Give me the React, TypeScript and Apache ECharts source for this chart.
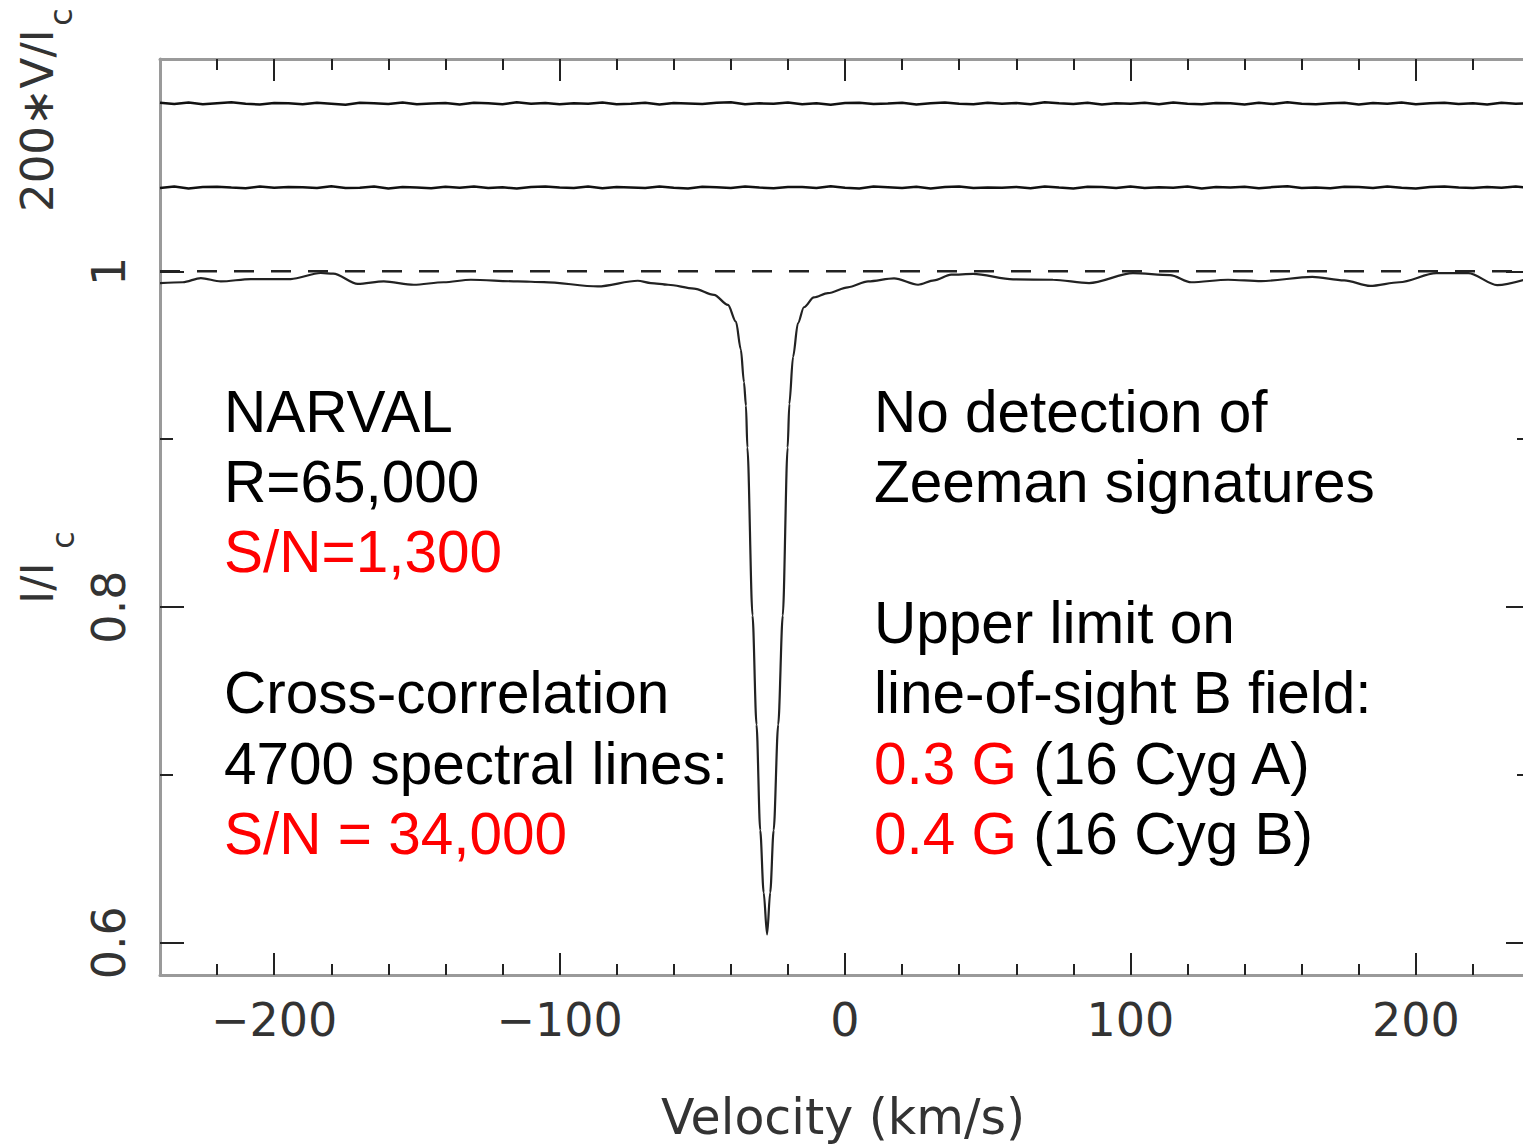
import React, { useEffect, useRef } from "react";
import * as echarts from "echarts";

// ---- Stokes I profile (velocity km/s, I/Ic) ----
const velocityI = [-240, -232, -225.7, -218.7, -208.2, -194.2, -183.7, -179.3, -170.7, -161.6, -151.1, -140.6, -131.1, -114.6, -105.5, -86.6, -72.6, -68.0, -62.0, -52.9, -45.9, -41.0, -38.2, -36.5, -35.4, -34.7, -34.2, -32.4, -31.0, -29.7, -28.5, -27.3, -26.2, -25.0, -23.4, -21.8, -20.1, -19.5, -18.2, -16.5, -14.4, -10.9, -6.0, 1.0, 8.1, 17.2, 25.6, 31.2, 37.2, 44.9, 58.9, 72.9, 85.5, 100.9, 113.9, 121.3, 134.2, 145.8, 163.7, 174.9, 184.0, 194.2, 207.2, 218.4, 228.5, 240];
const intensityI = [0.993, 0.9935, 0.996, 0.994, 0.9954, 0.9954, 0.999, 0.9986, 0.9925, 0.994, 0.992, 0.9935, 0.995, 0.994, 0.9936, 0.991, 0.9944, 0.993, 0.992, 0.9897, 0.986, 0.98, 0.97, 0.9535, 0.934, 0.92, 0.895, 0.795, 0.73, 0.667, 0.63, 0.605, 0.63, 0.667, 0.73, 0.795, 0.895, 0.921, 0.949, 0.969, 0.9786, 0.9845, 0.987, 0.9905, 0.994, 0.9958, 0.992, 0.9946, 0.998, 0.9985, 0.9952, 0.995, 0.993, 0.9989, 0.9978, 0.9935, 0.995, 0.9942, 0.9967, 0.9946, 0.9913, 0.9935, 0.9989, 0.9989, 0.9918, 0.996];

// ---- Stokes V profiles (shifted to 1.10 and 1.05), deviations in units of 1e-4 ----
const velocityV = [-240, -235, -230, -225, -220, -215, -210, -205, -200, -195, -190, -185, -180, -175, -170, -165, -160, -155, -150, -145, -140, -135, -130, -125, -120, -115, -110, -105, -100, -95, -90, -85, -80, -75, -70, -65, -60, -55, -50, -45, -40, -35, -30, -25, -20, -15, -10, -5, 0, 5, 10, 15, 20, 25, 30, 35, 40, 45, 50, 55, 60, 65, 70, 75, 80, 85, 90, 95, 100, 105, 110, 115, 120, 125, 130, 135, 140, 145, 150, 155, 160, 165, 170, 175, 180, 185, 190, 195, 200, 205, 210, 215, 220, 225, 230, 235, 240];
const stokesVA = [4, -3, 6, -5, 2, 7, -2, -6, 3, 1, -4, 5, -1, -7, 4, 2, -3, 6, -5, 0, 3, -6, 5, 1, -4, 7, -2, 3, -5, 2, -1, 6, -4, -2, 5, -6, 3, 0, -3, 4, 7, -5, 1, -2, 6, -4, 2, -7, 3, 5, -3, 0, 4, -6, 2, 6, -1, -4, 5, -2, 3, -5, 7, 1, -3, 4, -6, 2, -1, 5, -4, 6, -2, -5, 3, 1, -6, 4, -3, 7, -1, -4, 2, 5, -6, 3, -2, 6, -5, 1, 4, -3, 2, -6, 5, -1, 0];
const stokesVB = [-3, 5, -6, 2, 4, -1, -5, 6, -2, 3, 1, -4, 7, -3, -2, 5, -6, 3, 0, -5, 4, -2, 6, -4, 1, -7, 3, 5, -1, -3, 6, -5, 2, 0, -4, 5, -2, -6, 4, 1, -3, 6, -1, -5, 3, 2, -4, 7, -2, -6, 5, 1, -3, 4, -6, 2, 6, -4, 0, -2, 3, -5, 5, -1, -6, 4, 2, -3, 6, -4, 1, -2, 5, -6, 3, -1, 4, -5, 2, 7, -3, 0, -5, 4, 2, -4, 6, -2, -6, 3, 5, -1, -4, 3, -2, 6, -3];
const levelVA = 1.1;
const levelVB = 1.05;
const continuumLevel = 1.0;

// ---- axes ----
const xRange = [-240, 240];
const yRange = [0.5808, 1.1265];
const xMajorTicks = [-200, -100, 0, 100, 200];
const xMinorTicks = [-220, -180, -160, -140, -120, -80, -60, -40, -20, 20, 40, 60, 80, 120, 140, 160, 180, 220];
const yMajorTicks = [0.6, 0.8, 1.0];
const yMinorTicks = [0.7, 0.9];

// ---- annotation text ----
const leftLines = [
  [{ t: "NARVAL", red: false }],
  [{ t: "R=65,000", red: false }],
  [{ t: "S/N=1,300", red: true }],
  [],
  [{ t: "Cross-correlation", red: false }],
  [{ t: "4700 spectral lines:", red: false }],
  [{ t: "S/N = 34,000", red: true }],
];
const rightLines = [
  [{ t: "No detection of", red: false }],
  [{ t: "Zeeman signatures", red: false }],
  [],
  [{ t: "Upper limit on", red: false }],
  [{ t: "line-of-sight B field:", red: false }],
  [{ t: "0.3 G", red: true }, { t: " (16 Cyg A)", red: false }],
  [{ t: "0.4 G", red: true }, { t: " (16 Cyg B)", red: false }],
];

const AX_FONT = '"DejaVu Sans", sans-serif';
const TXT_FONT = '"Liberation Sans", Arial, sans-serif';

export default function App() {
  const ref = useRef<HTMLDivElement>(null);
  useEffect(() => {
    if (!ref.current) return;
    const chart = echarts.init(ref.current, undefined, { renderer: "svg" });

    const iData = velocityI.map((v, i) => [v, intensityI[i]]);
    const vaData = velocityV.map((v, i) => [v, levelVA + stokesVA[i] * 1e-4]);
    const vbData = velocityV.map((v, i) => [v, levelVB + stokesVB[i] * 1e-4]);

    const tickStyle = { color: "#222", width: 2 };
    const frameStyle = { color: "#9a9a9a", width: 3 };
    const fmtX = (v: number) => (v < 0 ? "\u2212" + Math.abs(v) : String(v));
    const fmtY = (v: number) => (Math.abs(v - 1) < 1e-9 ? "1" : v.toFixed(1));

    const xBase = { type: "value", min: xRange[0], max: xRange[1], gridIndex: 0, splitLine: { show: false } };
    const yBase = { type: "value", min: yRange[0], max: yRange[1], gridIndex: 0, splitLine: { show: false } };
    const line = (show: boolean) => ({ show, onZero: false, lineStyle: frameStyle });

    const textFont = "58.5px " + TXT_FONT;
    const lineH = 70.4;
    const blockTop = 411;
    const makeBlock = (lines: any[], x: number) =>
      lines
        .map((segs: any[], i: number) => {
          if (!segs.length) return null;
          const txt = segs.map((s) => (s.red ? "{r|" + s.t + "}" : "{k|" + s.t + "}")).join("");
          return {
            type: "text",
            x,
            y: blockTop + i * lineH,
            style: {
              text: txt,
              font: textFont,
              fill: "#000",
              align: "left",
              verticalAlign: "middle",
              rich: {
                r: { fill: "#ff0000", font: textFont },
                k: { fill: "#000", font: textFont },
              },
            },
          };
        })
        .filter(Boolean);

    chart.setOption({
      animation: false,
      grid: { left: 160, top: 59, width: 1370, height: 916, containLabel: false, outerBoundsMode: "none" },
      xAxis: [
        {
          ...xBase,
          position: "bottom",
          axisLine: line(true),
          axisTick: { show: true, inside: true, length: 22, customValues: xMajorTicks, lineStyle: tickStyle },
          axisLabel: { show: true, customValues: xMajorTicks, formatter: fmtX, fontSize: 46, fontFamily: AX_FONT, color: "#333", margin: 22 },
        },
        {
          ...xBase,
          position: "bottom",
          axisLine: line(false),
          axisTick: { show: true, inside: true, length: 11, customValues: xMinorTicks, lineStyle: tickStyle },
          axisLabel: { show: false },
        },
        {
          ...xBase,
          position: "top",
          axisLine: line(true),
          axisTick: { show: true, inside: true, length: 22, customValues: xMajorTicks, lineStyle: tickStyle },
          axisLabel: { show: false },
        },
        {
          ...xBase,
          position: "top",
          axisLine: line(false),
          axisTick: { show: true, inside: true, length: 11, customValues: xMinorTicks, lineStyle: tickStyle },
          axisLabel: { show: false },
        },
      ],
      yAxis: [
        {
          ...yBase,
          position: "left",
          axisLine: line(true),
          axisTick: { show: true, inside: true, length: 24, customValues: yMajorTicks, lineStyle: tickStyle },
          axisLabel: { show: true, customValues: yMajorTicks, formatter: fmtY, rotate: 90, fontSize: 46, fontFamily: AX_FONT, color: "#333", margin: 28 },
        },
        {
          ...yBase,
          position: "left",
          axisLine: line(false),
          axisTick: { show: true, inside: true, length: 13, customValues: yMinorTicks, lineStyle: tickStyle },
          axisLabel: { show: false },
        },
        {
          ...yBase,
          position: "right",
          axisLine: line(true),
          axisTick: { show: true, inside: true, length: 24, customValues: yMajorTicks, lineStyle: tickStyle },
          axisLabel: { show: false },
        },
        {
          ...yBase,
          position: "right",
          axisLine: line(false),
          axisTick: { show: true, inside: true, length: 13, customValues: yMinorTicks, lineStyle: tickStyle },
          axisLabel: { show: false },
        },
      ],
      series: [
        {
          name: "continuum",
          type: "line",
          data: [[xRange[0], continuumLevel], [xRange[1], continuumLevel]],
          showSymbol: false,
          lineStyle: { color: "#222", width: 2.5, type: [20, 17] },
          silent: true,
        },
        {
          name: "Stokes I",
          type: "line",
          data: iData,
          showSymbol: false,
          smooth: 0.3,
          smoothMonotone: "x",
          lineStyle: { color: "#222", width: 2.2 },
          silent: true,
        },
        {
          name: "Stokes V A",
          type: "line",
          data: vaData,
          showSymbol: false,
          lineStyle: { color: "#111", width: 2.5 },
          silent: true,
        },
        {
          name: "Stokes V B",
          type: "line",
          data: vbData,
          showSymbol: false,
          lineStyle: { color: "#111", width: 2.5 },
          silent: true,
        },
      ],
      graphic: [
        ...makeBlock(leftLines, 224),
        ...makeBlock(rightLines, 874),
        {
          type: "text",
          x: 843,
          y: 1117,
          style: { text: "Velocity (km/s)", font: "49px " + AX_FONT, fill: "#333", align: "center", verticalAlign: "middle" },
        },
        {
          type: "text",
          x: 37,
          y: 212,
          rotation: Math.PI / 2,
          style: { text: "200\u2217V/I", font: "45px " + AX_FONT, fill: "#333", align: "left", verticalAlign: "middle" },
        },
        {
          type: "text",
          x: 61,
          y: 17,
          rotation: Math.PI / 2,
          style: { text: "c", font: "32px " + AX_FONT, fill: "#333", align: "center", verticalAlign: "middle" },
        },
        {
          type: "text",
          x: 37,
          y: 604,
          rotation: Math.PI / 2,
          style: { text: "I/I", font: "45px " + AX_FONT, fill: "#333", align: "left", verticalAlign: "middle" },
        },
        {
          type: "text",
          x: 63,
          y: 540,
          rotation: Math.PI / 2,
          style: { text: "c", font: "32px " + AX_FONT, fill: "#333", align: "center", verticalAlign: "middle" },
        },
      ],
    });
    return () => chart.dispose();
  }, []);
  return <div ref={ref} style={{ position: "absolute", left: 0, top: 0, width: 1523, height: 1144, background: "#fff" }} />;
}
